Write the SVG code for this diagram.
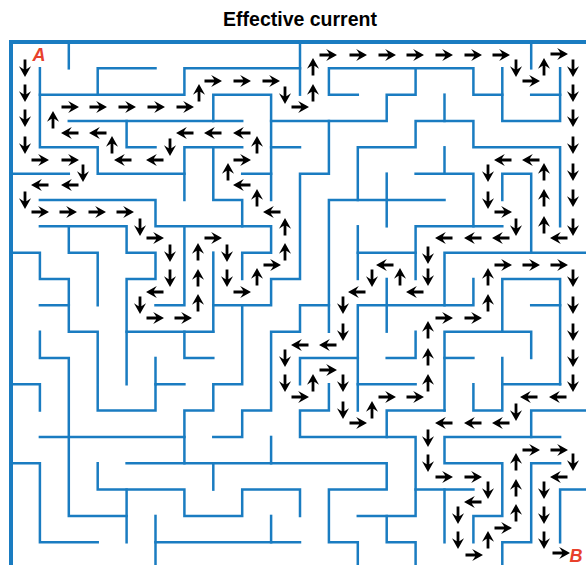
<svg xmlns="http://www.w3.org/2000/svg" xmlns:xlink="http://www.w3.org/1999/xlink" width="586" height="565" viewBox="0 0 586 565">
<style>
.w{fill:none;stroke:#1a7cc1;stroke-width:2.5;stroke-linecap:square;stroke-linejoin:miter;vector-effect:non-scaling-stroke}
.b{fill:none;stroke:#1a7cc1;stroke-width:4}
.t{font-family:"Liberation Sans",Arial,sans-serif;font-weight:bold;font-size:19.5px;fill:#000}
.l{font-family:"Liberation Sans",Arial,sans-serif;font-weight:bold;font-style:italic;font-size:18px;fill:#e8412c}
.a{fill:#000}
</style>
<defs>
<path id="ar" d="M-8.5,-1.4 H1.2 L-1.8,-6 L9,0 L-1.8,6 L1.2,1.4 H-8.5 Z"/>
</defs>
<rect width="586" height="565" fill="#fff"/>
<text class="t" x="300" y="26" text-anchor="middle">Effective current</text>
<g id="maze">
<path class="b" d="M11,565 V42 H586"/>
<g transform="translate(11,42) scale(28.9,26.33)">
<polyline class="w" points="2,0 2,1"/>
<polyline class="w" points="1,1 1,4 3,4 3,5 6,5"/>
<polyline class="w" points="5,1 3,1 3,2"/>
<polyline class="w" points="1,2 6,2 6,1 10,1"/>
<polyline class="w" points="2,3 8,3"/>
<polyline class="w" points="4,3 4,4 5,4"/>
<polyline class="w" points="0,5 2,5"/>
<polyline class="w" points="1,6 5,6 5,7 9,7 9,8 8,8 8,9"/>
<polyline class="w" points="7,3 7,2 9,2 9,6"/>
<polyline class="w" points="8,4 6,4 6,6"/>
<polyline class="w" points="7,4 7,6 8,6 8,7"/>
<polyline class="w" points="8,5 9,5"/>
<polyline class="w" points="9,3 13,3 13,2 14,2 14,1"/>
<polyline class="w" points="9,4 10,4"/>
<polyline class="w" points="10,0 10,2"/>
<polyline class="w" points="12,2 11,2 11,1 16,1 16,2 17,2"/>
<polyline class="w" points="11,3 11,5 10,5 10,9 9,9 9,10 7,10"/>
<polyline class="w" points="12,6 12,4 14,4 14,3 16,3 16,4 19,4 19,7"/>
<polyline class="w" points="15,2 15,3"/>
<polyline class="w" points="13,5 13,7"/>
<polyline class="w" points="14,5 16,5 16,7"/>
<polyline class="w" points="15,4 15,5"/>
<polyline class="w" points="14,9 14,7 17,7"/>
<polyline class="w" points="11,11 11,6 15,6"/>
<polyline class="w" points="17,1 17,3 19,3 19,1"/>
<polyline class="w" points="18,2 19,2"/>
<polyline class="w" points="18,0 18,1"/>
<polyline class="w" points="17,6 17,5 18,5 18,8"/>
<polyline class="w" points="1,7 4,7 4,8 5,8 5,9 4,9 4,13"/>
<polyline class="w" points="4,11 7,11"/>
<polyline class="w" points="2,7 2,8 3,8 3,10"/>
<polyline class="w" points="0,8 1,8 1,9 2,9 2,11 3,11 3,14 5,14 5,13 6,13"/>
<polyline class="w" points="5,12 5,13"/>
<polyline class="w" points="1,10 2,10"/>
<polyline class="w" points="1,11 1,12 2,12 2,18 4,18"/>
<polyline class="w" points="6,7 6,10 5,10"/>
<polyline class="w" points="7,8 7,11"/>
<polyline class="w" points="8,10 8,13 7,13 7,14 6,14 6,16"/>
<polyline class="w" points="1,15 6,15"/>
<polyline class="w" points="7,12 6,12 6,11"/>
<polyline class="w" points="11,10 10,10 10,11 9,11 9,14 8,14 8,15 7,15"/>
<polyline class="w" points="0,13 1,13 1,14"/>
<polyline class="w" points="12,7 12,9"/>
<polyline class="w" points="12,8 14,8"/>
<polyline class="w" points="13,9 13,11"/>
<polyline class="w" points="12,13 12,10 16,10 16,9"/>
<polyline class="w" points="10,13 10,12 12,12"/>
<polyline class="w" points="14,11 14,12 13,12"/>
<polyline class="w" points="12,14 12,13 14,13"/>
<polyline class="w" points="15,10 15,8 20.2,8"/>
<polyline class="w" points="17,11 17,9 19,9 19,13"/>
<polyline class="w" points="18,10 19,10"/>
<polyline class="w" points="15,14 15,11 18,11 18,12"/>
<polyline class="w" points="15,12 16,12"/>
<polyline class="w" points="16,13 16,14 17,14 17,12"/>
<polyline class="w" points="17,13 19,13"/>
<polyline class="w" points="0,16 1,16 1,19 3,19"/>
<polyline class="w" points="3,16 3,17 6,17 6,18 8,18 8,17 10,17 10,18"/>
<polyline class="w" points="4,16 13,16 13,17 11,17 11,19 12,19 12,20.2"/>
<polyline class="w" points="4,17 4,19"/>
<polyline class="w" points="7,16 7,17"/>
<polyline class="w" points="9,15 9,16"/>
<polyline class="w" points="5,18 5,20.2"/>
<polyline class="w" points="5,19 10,19"/>
<polyline class="w" points="9,18 9,19"/>
<polyline class="w" points="11,13 11,14 10,14 10,15 14,15 14,18 12,18"/>
<polyline class="w" points="13,15 13,14 15,14"/>
<polyline class="w" points="13,18 13,19 14,19 14,20.2"/>
<polyline class="w" points="14,17 16,17"/>
<polyline class="w" points="15,17 15,19"/>
<polyline class="w" points="18,15 18,14 20.2,14"/>
<polyline class="w" points="19,15 15,15 15,16 17,16 17,18 16,18 16,19"/>
<polyline class="w" points="19,16 18,16 18,19 17,19 17,20.2"/>
<polyline class="w" points="20.2,17 19,17 19,19"/>
</g>
</g>
<g id="current" class="a">
<use href="#ar" transform="translate(25,68) rotate(90)"/>
<use href="#ar" transform="translate(25,93) rotate(90)"/>
<use href="#ar" transform="translate(25,118) rotate(90)"/>
<use href="#ar" transform="translate(25,145) rotate(90)"/>
<use href="#ar" transform="translate(40,160)"/>
<use href="#ar" transform="translate(70,160)"/>
<use href="#ar" transform="translate(83,173) rotate(90)"/>
<use href="#ar" transform="translate(70,185) rotate(180)"/>
<use href="#ar" transform="translate(40,185) rotate(180)"/>
<use href="#ar" transform="translate(25,200) rotate(90)"/>
<use href="#ar" transform="translate(40,212)"/>
<use href="#ar" transform="translate(68,212)"/>
<use href="#ar" transform="translate(97,212)"/>
<use href="#ar" transform="translate(125,212)"/>
<use href="#ar" transform="translate(140,227) rotate(90)"/>
<use href="#ar" transform="translate(155,238)"/>
<use href="#ar" transform="translate(170,253) rotate(90)"/>
<use href="#ar" transform="translate(170,278) rotate(90)"/>
<use href="#ar" transform="translate(155,292) rotate(180)"/>
<use href="#ar" transform="translate(140,305) rotate(90)"/>
<use href="#ar" transform="translate(155,318)"/>
<use href="#ar" transform="translate(183,318)"/>
<use href="#ar" transform="translate(198,303) rotate(-90)"/>
<use href="#ar" transform="translate(198,278) rotate(-90)"/>
<use href="#ar" transform="translate(198,252) rotate(-90)"/>
<use href="#ar" transform="translate(213,238)"/>
<use href="#ar" transform="translate(227,253) rotate(90)"/>
<use href="#ar" transform="translate(227,278) rotate(90)"/>
<use href="#ar" transform="translate(242,292)"/>
<use href="#ar" transform="translate(257,277) rotate(-90)"/>
<use href="#ar" transform="translate(272,265)"/>
<use href="#ar" transform="translate(285,252) rotate(-90)"/>
<use href="#ar" transform="translate(285,227) rotate(-90)"/>
<use href="#ar" transform="translate(272,212) rotate(180)"/>
<use href="#ar" transform="translate(257,198) rotate(-90)"/>
<use href="#ar" transform="translate(242,185) rotate(180)"/>
<use href="#ar" transform="translate(228,172) rotate(-90)"/>
<use href="#ar" transform="translate(242,160)"/>
<use href="#ar" transform="translate(257,145) rotate(-90)"/>
<use href="#ar" transform="translate(242,133) rotate(180)"/>
<use href="#ar" transform="translate(213,133) rotate(180)"/>
<use href="#ar" transform="translate(185,133) rotate(180)"/>
<use href="#ar" transform="translate(170,147) rotate(90)"/>
<use href="#ar" transform="translate(155,160) rotate(180)"/>
<use href="#ar" transform="translate(123,160) rotate(180)"/>
<use href="#ar" transform="translate(112,145) rotate(-90)"/>
<use href="#ar" transform="translate(98,133) rotate(180)"/>
<use href="#ar" transform="translate(70,133) rotate(180)"/>
<use href="#ar" transform="translate(53,120) rotate(-90)"/>
<use href="#ar" transform="translate(70,107)"/>
<use href="#ar" transform="translate(98,107)"/>
<use href="#ar" transform="translate(127,107)"/>
<use href="#ar" transform="translate(156,107)"/>
<use href="#ar" transform="translate(185,107)"/>
<use href="#ar" transform="translate(199,93) rotate(-90)"/>
<use href="#ar" transform="translate(213,81)"/>
<use href="#ar" transform="translate(242,81)"/>
<use href="#ar" transform="translate(271,81)"/>
<use href="#ar" transform="translate(285,95) rotate(90)"/>
<use href="#ar" transform="translate(300,107)"/>
<use href="#ar" transform="translate(313,93) rotate(-90)"/>
<use href="#ar" transform="translate(313,67) rotate(-90)"/>
<use href="#ar" transform="translate(328,55)"/>
<use href="#ar" transform="translate(358,55)"/>
<use href="#ar" transform="translate(387,55)"/>
<use href="#ar" transform="translate(415,55)"/>
<use href="#ar" transform="translate(444,55)"/>
<use href="#ar" transform="translate(473,55)"/>
<use href="#ar" transform="translate(501,55)"/>
<use href="#ar" transform="translate(516,68) rotate(90)"/>
<use href="#ar" transform="translate(531,81)"/>
<use href="#ar" transform="translate(544,67) rotate(-90)"/>
<use href="#ar" transform="translate(559,54)"/>
<use href="#ar" transform="translate(573,68) rotate(90)"/>
<use href="#ar" transform="translate(573,93) rotate(90)"/>
<use href="#ar" transform="translate(573,118) rotate(90)"/>
<use href="#ar" transform="translate(573,145) rotate(90)"/>
<use href="#ar" transform="translate(573,172) rotate(90)"/>
<use href="#ar" transform="translate(573,198) rotate(90)"/>
<use href="#ar" transform="translate(573,227) rotate(90)"/>
<use href="#ar" transform="translate(559,238) rotate(180)"/>
<use href="#ar" transform="translate(544,225) rotate(-90)"/>
<use href="#ar" transform="translate(544,198) rotate(-90)"/>
<use href="#ar" transform="translate(544,172) rotate(-90)"/>
<use href="#ar" transform="translate(531,160) rotate(180)"/>
<use href="#ar" transform="translate(503,160) rotate(180)"/>
<use href="#ar" transform="translate(488,173) rotate(90)"/>
<use href="#ar" transform="translate(488,200) rotate(90)"/>
<use href="#ar" transform="translate(503,212)"/>
<use href="#ar" transform="translate(516,227) rotate(90)"/>
<use href="#ar" transform="translate(501,238) rotate(180)"/>
<use href="#ar" transform="translate(473,238) rotate(180)"/>
<use href="#ar" transform="translate(444,238) rotate(180)"/>
<use href="#ar" transform="translate(428,255) rotate(90)"/>
<use href="#ar" transform="translate(428,277) rotate(90)"/>
<use href="#ar" transform="translate(415,292) rotate(180)"/>
<use href="#ar" transform="translate(400,277) rotate(-90)"/>
<use href="#ar" transform="translate(385,265) rotate(180)"/>
<use href="#ar" transform="translate(372,278) rotate(90)"/>
<use href="#ar" transform="translate(357,292) rotate(180)"/>
<use href="#ar" transform="translate(343,305) rotate(90)"/>
<use href="#ar" transform="translate(343,332) rotate(90)"/>
<use href="#ar" transform="translate(328,345) rotate(180)"/>
<use href="#ar" transform="translate(300,345) rotate(180)"/>
<use href="#ar" transform="translate(285,358) rotate(90)"/>
<use href="#ar" transform="translate(285,383) rotate(90)"/>
<use href="#ar" transform="translate(300,397)"/>
<use href="#ar" transform="translate(313,383) rotate(-90)"/>
<use href="#ar" transform="translate(328,370)"/>
<use href="#ar" transform="translate(343,383) rotate(90)"/>
<use href="#ar" transform="translate(343,410) rotate(90)"/>
<use href="#ar" transform="translate(358,423)"/>
<use href="#ar" transform="translate(372,410) rotate(-90)"/>
<use href="#ar" transform="translate(387,397)"/>
<use href="#ar" transform="translate(415,397)"/>
<use href="#ar" transform="translate(428,383) rotate(-90)"/>
<use href="#ar" transform="translate(428,357) rotate(-90)"/>
<use href="#ar" transform="translate(428,330) rotate(-90)"/>
<use href="#ar" transform="translate(444,318)"/>
<use href="#ar" transform="translate(473,318)"/>
<use href="#ar" transform="translate(488,303) rotate(-90)"/>
<use href="#ar" transform="translate(488,277) rotate(-90)"/>
<use href="#ar" transform="translate(503,265)"/>
<use href="#ar" transform="translate(531,265)"/>
<use href="#ar" transform="translate(559,265)"/>
<use href="#ar" transform="translate(573,278) rotate(90)"/>
<use href="#ar" transform="translate(573,305) rotate(90)"/>
<use href="#ar" transform="translate(573,332) rotate(90)"/>
<use href="#ar" transform="translate(573,358) rotate(90)"/>
<use href="#ar" transform="translate(573,383) rotate(90)"/>
<use href="#ar" transform="translate(558,397) rotate(180)"/>
<use href="#ar" transform="translate(529,397) rotate(180)"/>
<use href="#ar" transform="translate(516,412) rotate(90)"/>
<use href="#ar" transform="translate(501,423) rotate(180)"/>
<use href="#ar" transform="translate(473,423) rotate(180)"/>
<use href="#ar" transform="translate(444,423) rotate(180)"/>
<use href="#ar" transform="translate(428,438) rotate(90)"/>
<use href="#ar" transform="translate(428,463) rotate(90)"/>
<use href="#ar" transform="translate(444,477)"/>
<use href="#ar" transform="translate(473,477)"/>
<use href="#ar" transform="translate(488,490) rotate(90)"/>
<use href="#ar" transform="translate(473,502) rotate(180)"/>
<use href="#ar" transform="translate(458,515) rotate(90)"/>
<use href="#ar" transform="translate(458,540) rotate(90)"/>
<use href="#ar" transform="translate(474,555)"/>
<use href="#ar" transform="translate(488,540) rotate(-90)"/>
<use href="#ar" transform="translate(503,528)"/>
<use href="#ar" transform="translate(516,513) rotate(-90)"/>
<use href="#ar" transform="translate(516,488) rotate(-90)"/>
<use href="#ar" transform="translate(516,462) rotate(-90)"/>
<use href="#ar" transform="translate(531,450)"/>
<use href="#ar" transform="translate(559,450)"/>
<use href="#ar" transform="translate(573,462) rotate(90)"/>
<use href="#ar" transform="translate(559,477) rotate(180)"/>
<use href="#ar" transform="translate(544,490) rotate(90)"/>
<use href="#ar" transform="translate(544,515) rotate(90)"/>
<use href="#ar" transform="translate(544,540) rotate(90)"/>
<use href="#ar" transform="translate(561,553)"/>
</g>
<text class="l" x="39" y="61" text-anchor="middle">A</text>
<text class="l" x="576" y="562" text-anchor="middle">B</text>
</svg>
